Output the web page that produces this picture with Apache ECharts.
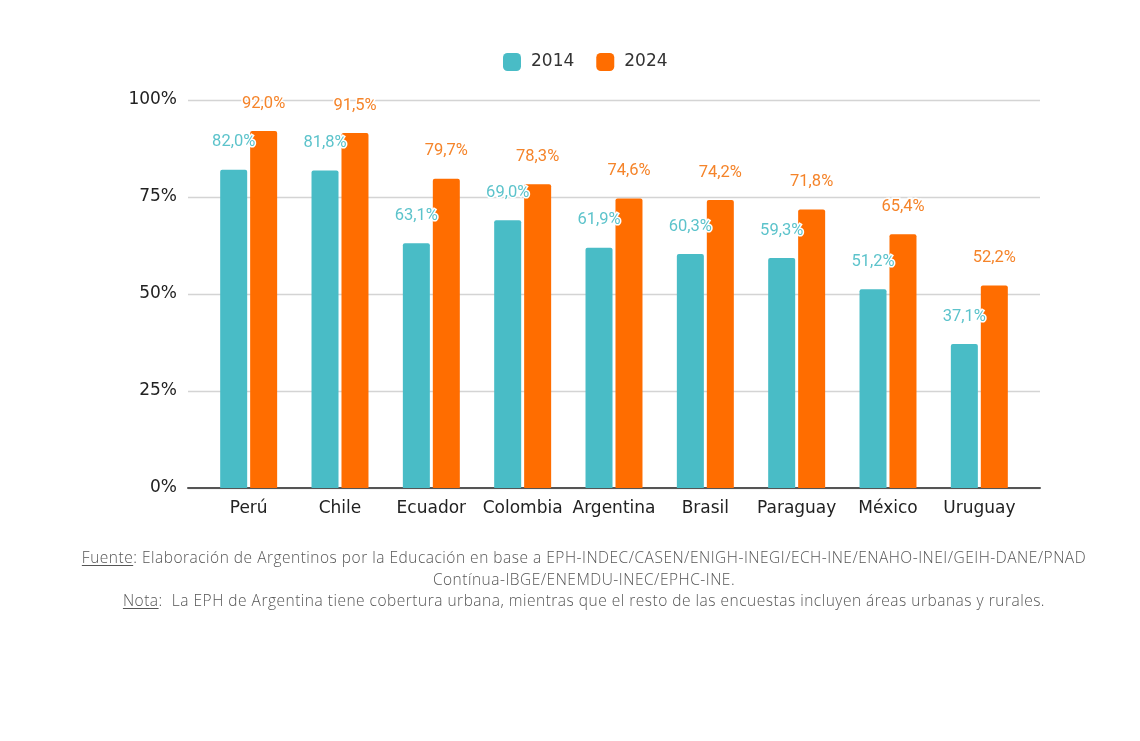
<!DOCTYPE html>
<html>
<head>
<meta charset="UTF-8">
<script src="https://cdn.jsdelivr.net/npm/echarts@6/dist/echarts.min.js"></script>
<title>Asistencia por país</title>
<style>
  html, body { margin: 0; padding: 0; background: #fff; }
  #main { position: absolute; left: 0; top: 0; width: 1140px; height: 741px; }
  #nota { position: absolute; left: 0; top: 547px; width: 1168px; text-align: center;
          font-family: 'Open Sans', sans-serif; font-weight: 300; font-size: 15.5px;
          letter-spacing: 0.5px; line-height: 21.5px; color: #555; }
  #nota u { text-underline-offset: 2px; }
</style>
</head>
<body>
<div id="main"></div>
<div id="nota">
  <u>Fuente</u>: Elaboración de Argentinos por la Educación en base a EPH-INDEC/CASEN/ENIGH-INEGI/ECH-INE/ENAHO-INEI/GEIH-DANE/PNAD<br>
  Contínua-IBGE/ENEMDU-INEC/EPHC-INE.<br>
  <u>Nota</u>:&nbsp; La EPH de Argentina tiene cobertura urbana, mientras que el resto de las encuestas incluyen áreas urbanas y rurales.
</div>
<script type="text/javascript">
// datos
var paises = ['Perú', 'Chile', 'Ecuador', 'Colombia', 'Argentina', 'Brasil', 'Paraguay', 'México', 'Uruguay'];
var valores2014 = [82.0, 81.8, 63.1, 69.0, 61.9, 60.3, 59.3, 51.2, 37.1];
var valores2024 = [92.0, 91.5, 79.7, 78.3, 74.6, 74.2, 71.8, 65.4, 52.2];
var ticksY = [0, 25, 50, 75, 100];

var colorA = '#49bcc6';
var colorB = '#ff6d00';

function fmt(v) {
  return v.toFixed(1).replace('.', ',') + '%';
}

var myChart = echarts.init(document.getElementById('main'));

var option = {
  animation: false,
  legend: {
    data: ['2014', '2024'],
    top: 48,
    left: 498,
    itemWidth: 18,
    itemHeight: 18,
    itemGap: 22,
    icon: 'roundRect',
    textStyle: { fontFamily: 'DejaVu Sans', fontSize: 17, color: '#333', padding: [0, 0, 0, 5] }
  },
  grid: [
    { left: 188, right: 100, top: 100, bottom: 253 },
    { left: 203, right: 115, top: 100, bottom: 253 }
  ],
  xAxis: [
    {
      gridIndex: 0, type: 'value', min: 0, max: 1,
      axisLine: { show: true, lineStyle: { color: '#555', width: 2 } },
      axisTick: { show: false }, axisLabel: { show: false }, splitLine: { show: false }
    },
    {
      gridIndex: 1, type: 'category', data: paises,
      axisLine: { show: false }, axisTick: { show: false },
      axisLabel: { interval: 0, fontFamily: 'DejaVu Sans', fontSize: 17, color: '#222', margin: 12 }
    }
  ],
  yAxis: [
    {
      gridIndex: 0, type: 'value', min: ticksY[0], max: ticksY[ticksY.length - 1], interval: 25,
      axisLine: { show: false }, axisTick: { show: false },
      axisLabel: { fontFamily: 'DejaVu Sans', fontSize: 17, color: '#222', margin: 11,
                   verticalAlign: 'middle', padding: [3, 0, 0, 0],
                   formatter: function (v) { return v + '%'; } },
      splitLine: { lineStyle: { color: '#d4d4d4', width: 1.3 } }
    },
    {
      gridIndex: 1, type: 'value', min: 0, max: 100, show: false,
      splitLine: { show: false }
    }
  ],
  series: [
    {
      name: '2014', type: 'bar', xAxisIndex: 1, yAxisIndex: 1,
      data: valores2014, barWidth: 27, barGap: '11%',
      itemStyle: { color: colorA, borderRadius: [2, 2, 0, 0] },
      label: {
        show: true, position: 'top', distance: 19,
        fontFamily: 'Roboto', fontSize: 16.5, color: '#5cc3cb',
        textBorderColor: '#fff', textBorderWidth: 3,
        formatter: function (p) { return fmt(p.value); }
      },
      z: 3
    },
    {
      name: '2024', type: 'bar', xAxisIndex: 1, yAxisIndex: 1,
      data: valores2024, barWidth: 27,
      itemStyle: { color: colorB, borderRadius: [2, 2, 0, 0] },
      label: {
        show: true, position: 'top', distance: 19,
        fontFamily: 'Roboto', fontSize: 16.5, color: '#f5842a',
        textBorderColor: '#fff', textBorderWidth: 3,
        formatter: function (p) { return fmt(p.value); }
      },
      z: 2
    }
  ]
};

myChart.setOption(option);
</script>
</body>
</html>
